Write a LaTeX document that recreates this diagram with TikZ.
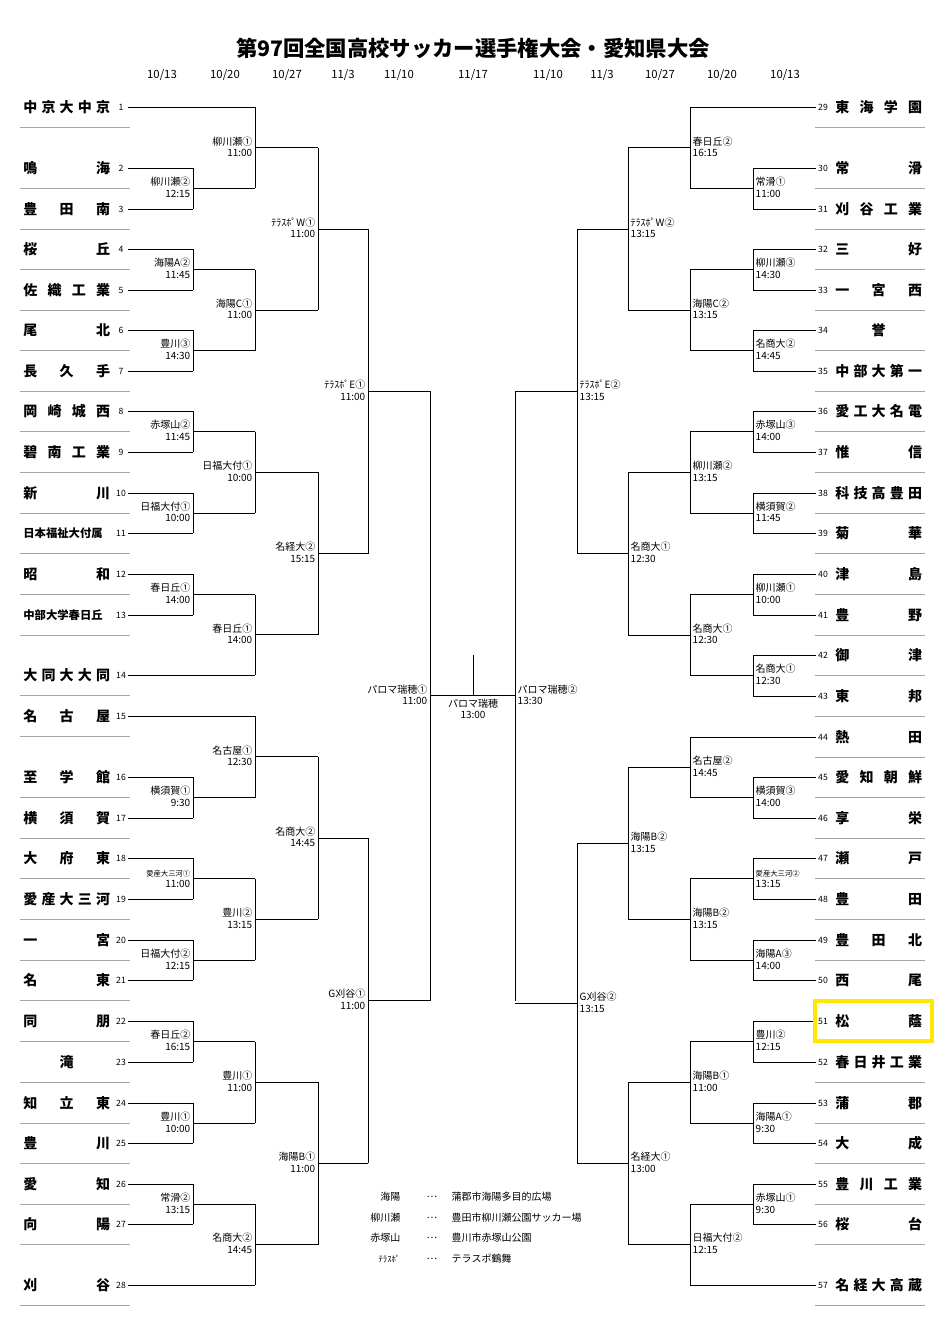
\documentclass[tikz,border=0pt]{standalone}
\usepackage{fontspec}
\setmainfont{Noto Sans CJK JP}
\newcommand\hf{\hfill}
\newcommand\tnbox[1]{\makebox[65pt][s]{#1}}
\newcommand\brkL[6]{%
  \draw (#1,#2)--(#1,#3);
  \draw (#1,{(#2+#3)/2})--(#4,{(#2+#3)/2});
  \node[lab,anchor=south east] at (#1-1,{(#2+#3)/2}) {#5};
  \node[lab,anchor=north east] at (#1-1,{(#2+#3)/2}) {#6};}
\newcommand\brkR[6]{%
  \draw (#1,#2)--(#1,#3);
  \draw (#1,{(#2+#3)/2})--(#4,{(#2+#3)/2});
  \node[lab,anchor=south west] at (#1+1,{(#2+#3)/2}) {#5};
  \node[lab,anchor=north west] at (#1+1,{(#2+#3)/2}) {#6};}
\begin{document}
\begin{tikzpicture}[x=0.75pt,y=-0.75pt,line width=0.6pt,
  lab/.style={font=\fontsize{7.5}{8.5}\selectfont,inner sep=1pt},
  tnf/.style={font=\fontsize{10.5}{12}\selectfont\bfseries,inner sep=0pt},
  num/.style={font=\fontsize{6.5}{7}\selectfont,inner sep=0pt},
  sep/.style={gray!70,line width=0.5pt},
  dt/.style={font=\fontsize{8.5}{9}\selectfont}]
\fill[white] (0,0) rectangle (946,1341);
\useasboundingbox (0,0) rectangle (946,1341);
\node[font=\fontsize{16}{18}\selectfont\bfseries] (title) at (473,48) {第97回全国高校サッカー選手権大会・愛知県大会};
\foreach \x/\d in {162/10\slash 13,225/10\slash 20,287/10\slash 27,343/11\slash 3,399/11\slash 10,473/11\slash 17,548/11\slash 10,602/11\slash 3,660/10\slash 27,722/10\slash 20,785/10\slash 13}
  \node[dt] at (\x,75) {\d};
% left teams
\foreach \y/\n/\nm/\xe in {
107/1/中\hf 京\hf 大\hf 中\hf 京/255, 168/2/鳴\hf 海/193, 209/3/豊\hf 田\hf 南/193,
249/4/桜\hf 丘/193, 290/5/佐\hf 織\hf 工\hf 業/193, 330/6/尾\hf 北/193, 371/7/長\hf 久\hf 手/193,
411/8/岡\hf 崎\hf 城\hf 西/193, 452/9/碧\hf 南\hf 工\hf 業/193, 493/10/新\hf 川/193,
533/11/{\fontsize{8.5}{9}\selectfont 日本福祉大付属}/193, 574/12/昭\hf 和/193,
615/13/{\fontsize{8.5}{9}\selectfont 中部大学春日丘}/193, 675/14/大\hf 同\hf 大\hf 大\hf 同/255,
716/15/名\hf 古\hf 屋/255, 777/16/至\hf 学\hf 館/193, 818/17/横\hf 須\hf 賀/193,
858/18/大\hf 府\hf 東/193, 899/19/愛\hf 産\hf 大\hf 三\hf 河/193, 940/20/一\hf 宮/193,
980/21/名\hf 東/193, 1021/22/同\hf 朋/193, 1062/23/\hf 滝\hf\null/193, 1103/24/知\hf 立\hf 東/193,
1143/25/豊\hf 川/193, 1184/26/愛\hf 知/193, 1224/27/向\hf 陽/193, 1285/28/刈\hf 谷/255}{
  \node[tnf,anchor=west] (L\n) at (23,\y) {\tnbox{\nm}};
  \node[num] (LN\n) at (121,\y) {\n};
  \draw[sep] (20,\y+20)--(130,\y+20);
  \draw (128,\y)--(\xe,\y);
}
% right teams
\foreach \y/\n/\nm/\xe in {
107/29/東\hf 海\hf 学\hf 園/690, 168/30/常\hf 滑/753, 209/31/刈\hf 谷\hf 工\hf 業/753,
249/32/三\hf 好/753, 290/33/一\hf 宮\hf 西/753, 330/34/\hf 誉\hf\null/753, 371/35/中\hf 部\hf 大\hf 第\hf 一/753,
411/36/愛\hf 工\hf 大\hf 名\hf 電/753, 452/37/惟\hf 信/753, 493/38/科\hf 技\hf 高\hf 豊\hf 田/753,
533/39/菊\hf 華/753, 574/40/津\hf 島/753, 615/41/豊\hf 野/753, 655/42/御\hf 津/753,
696/43/東\hf 邦/753, 737/44/熱\hf 田/690, 777/45/愛\hf 知\hf 朝\hf 鮮/753, 818/46/享\hf 栄/753,
858/47/瀬\hf 戸/753, 899/48/豊\hf 田/753, 940/49/豊\hf 田\hf 北/753, 980/50/西\hf 尾/753,
1021/51/松\hf 蔭/753, 1062/52/春\hf 日\hf 井\hf 工\hf 業/753, 1103/53/蒲\hf 郡/753, 1143/54/大\hf 成/753,
1184/55/豊\hf 川\hf 工\hf 業/753, 1224/56/桜\hf 台/753, 1285/57/名\hf 経\hf 大\hf 高\hf 蔵/690}{
  \node[tnf,anchor=west] (R\n) at (835,\y) {\tnbox{\nm}};
  \node[num] (RN\n) at (823,\y) {\n};
  \draw[sep] (815,\y+20)--(925,\y+20);
  \draw (\xe,\y)--(816,\y);
}
% left brackets
\brkL{193}{168}{209}{255}{柳川瀬②}{12:15}
\brkL{193}{249}{290}{255}{海陽A②}{11:45}
\brkL{193}{330}{371}{255}{豊川③}{14:30}
\brkL{193}{411}{452}{255}{赤塚山②}{11:45}
\brkL{193}{493}{533}{255}{日福大付①}{10:00}
\brkL{193}{574}{615}{255}{春日丘①}{14:00}
\brkL{193}{777}{818}{255}{横須賀①}{9:30}
\brkL{193}{858}{899}{255}{{\fontsize{5.5}{6}\selectfont 愛産大三河①}}{11:00}
\brkL{193}{940}{980}{255}{日福大付②}{12:15}
\brkL{193}{1021}{1062}{255}{春日丘②}{16:15}
\brkL{193}{1103}{1143}{255}{豊川①}{10:00}
\brkL{193}{1184}{1224}{255}{常滑②}{13:15}
\brkL{255}{107}{188.5}{318}{柳川瀬①}{11:00}
\brkL{255}{269.5}{350.5}{318}{海陽C①}{11:00}
\brkL{255}{431.5}{513}{318}{日福大付①}{10:00}
\brkL{255}{594.5}{675}{318}{春日丘①}{14:00}
\brkL{255}{716}{797.5}{318}{名古屋①}{12:30}
\brkL{255}{878.5}{960}{318}{豊川②}{13:15}
\brkL{255}{1041.5}{1123}{318}{豊川①}{11:00}
\brkL{255}{1204}{1285}{318}{名商大②}{14:45}
\brkL{318}{148}{310}{368}{ﾃﾗｽﾎﾟW①}{11:00}
\brkL{318}{472}{635}{368}{名経大②}{15:15}
\brkL{318}{757}{919}{368}{名商大②}{14:45}
\brkL{318}{1082}{1244.5}{368}{海陽B①}{11:00}
\brkL{368}{229}{553.5}{430}{ﾃﾗｽﾎﾟE①}{11:00}
\brkL{368}{838}{1163}{430}{G刈谷①}{11:00}
\brkL{430}{391}{1000.5}{473}{パロマ瑞穂①}{11:00}
% right brackets
\brkR{753}{168}{209}{690}{常滑①}{11:00}
\brkR{753}{249}{290}{690}{柳川瀬③}{14:30}
\brkR{753}{330}{371}{690}{名商大②}{14:45}
\brkR{753}{411}{452}{690}{赤塚山③}{14:00}
\brkR{753}{493}{533}{690}{横須賀②}{11:45}
\brkR{753}{574}{615}{690}{柳川瀬①}{10:00}
\brkR{753}{655}{696}{690}{名商大①}{12:30}
\brkR{753}{777}{818}{690}{横須賀③}{14:00}
\brkR{753}{858}{899}{690}{{\fontsize{5.5}{6}\selectfont 愛産大三河②}}{13:15}
\brkR{753}{940}{980}{690}{海陽A③}{14:00}
\brkR{753}{1021}{1062}{690}{豊川②}{12:15}
\brkR{753}{1103}{1143}{690}{海陽A①}{9:30}
\brkR{753}{1184}{1224}{690}{赤塚山①}{9:30}
\brkR{690}{107}{188.5}{628}{春日丘②}{16:15}
\brkR{690}{269.5}{350.5}{628}{海陽C②}{13:15}
\brkR{690}{431.5}{513}{628}{柳川瀬②}{13:15}
\brkR{690}{594.5}{675.5}{628}{名商大①}{12:30}
\brkR{690}{737}{797.5}{628}{名古屋②}{14:45}
\brkR{690}{878.5}{960}{628}{海陽B②}{13:15}
\brkR{690}{1041.5}{1123}{628}{海陽B①}{11:00}
\brkR{690}{1204}{1285}{628}{日福大付②}{12:15}
\brkR{628}{148}{310}{577}{ﾃﾗｽﾎﾟW②}{13:15}
\brkR{628}{472}{635}{577}{名商大①}{12:30}
\brkR{628}{767}{919}{577}{海陽B②}{13:15}
\brkR{628}{1082}{1244.5}{577}{名経大①}{13:00}
\brkR{577}{229}{553.5}{515}{ﾃﾗｽﾎﾟE②}{13:15}
\brkR{577}{843}{1163}{515}{G刈谷②}{13:15}
\brkR{515}{391}{1000.5}{473}{パロマ瑞穂②}{13:30}
% final
\coordinate (fin) at (473,695.75);
\draw (fin)--(473,655);
\node[lab,anchor=north,align=center] (finlab) at (473,697) {パロマ瑞穂\\13:00};
% highlight
\draw[yellow!90!orange,line width=2.3pt] (815,1001) rectangle (932,1041);
% legend
\foreach \y/\a/\b in {1197/海陽/蒲郡市海陽多目的広場,1218/柳川瀬/豊田市柳川瀬公園サッカー場,1238/赤塚山/豊川市赤塚山公園,1259/{\fontsize{6.5}{7}\selectfont ﾃﾗｽﾎﾟ}/テラスポ鶴舞}{
  \node[lab,anchor=east] at (402,\y) {\a};
  \node[lab] at (432,\y) {…};
  \node[lab,anchor=west] at (450,\y) {\b};
}
\end{tikzpicture}
\end{document}
